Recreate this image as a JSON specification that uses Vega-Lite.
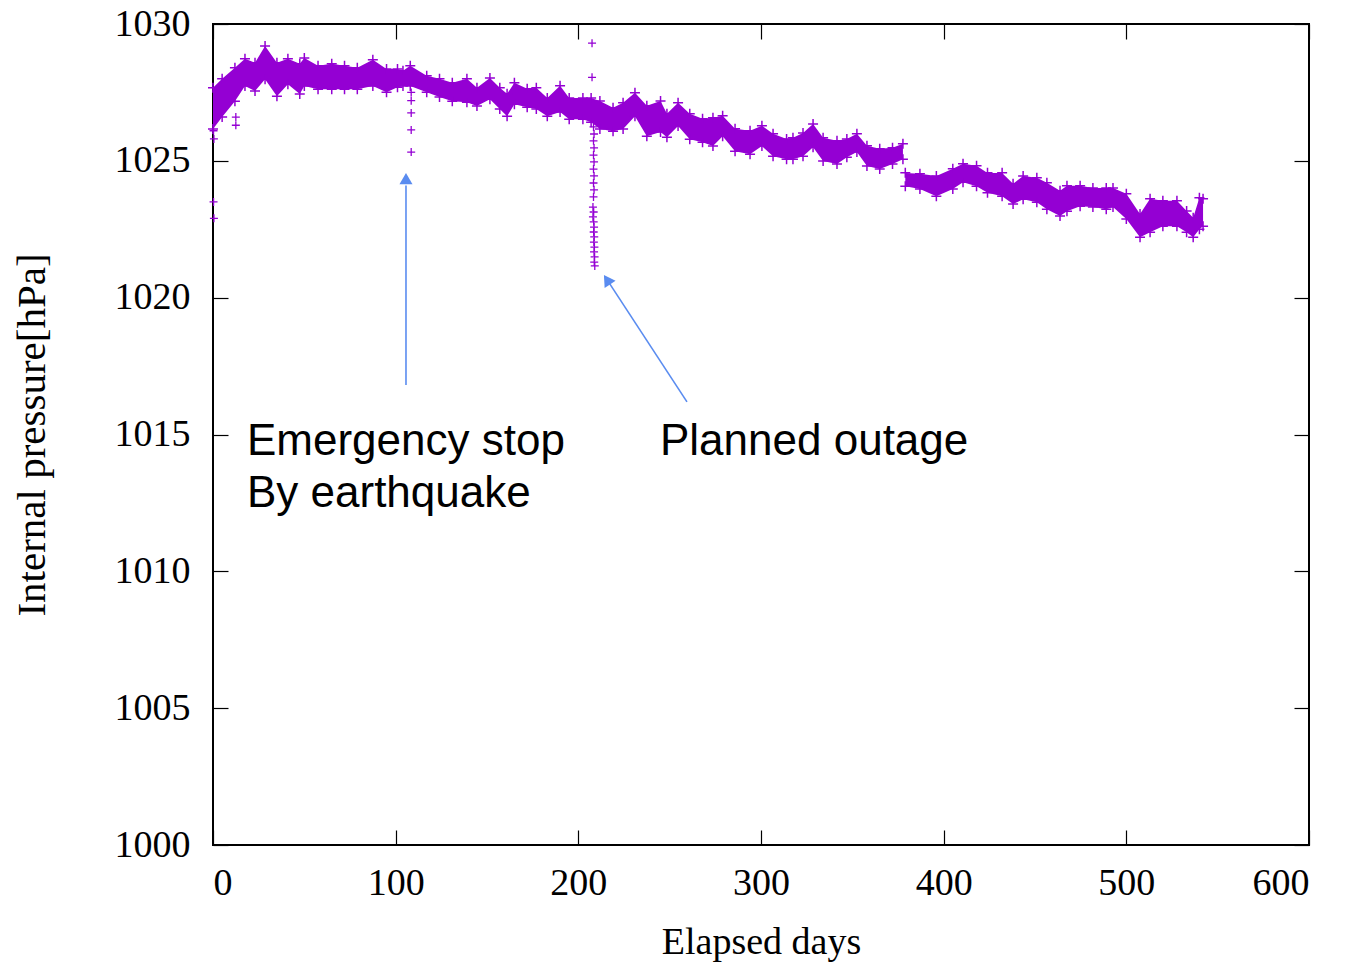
{
  "$schema": "https://vega.github.io/schema/vega-lite/v6.json",
  "width": 1096,
  "height": 821,
  "autosize": {"type": "none"},
  "padding": {"left": 213, "top": 24, "right": 39, "bottom": 119},
  "background": "white",
  "config": {
    "view": {"stroke": "black", "strokeWidth": 2},
    "axis": {
      "labelFont": "Liberation Serif",
      "labelFontSize": 38,
      "labelColor": "black",
      "titleFont": "Liberation Serif",
      "titleFontSize": 38,
      "titleFontWeight": "normal",
      "titleColor": "black",
      "tickColor": "black",
      "tickWidth": 1.2,
      "tickSize": -15,
      "domain": false,
      "grid": false
    }
  },
  "datasets": {
    "band": [
      {"d": 0, "hi": 1027.67, "lo": 1026.16, "s": "A"},
      {"d": 5, "hi": 1028.0, "lo": 1026.6, "s": "A"},
      {"d": 12, "hi": 1028.4, "lo": 1027.18, "s": "A"},
      {"d": 17.5, "hi": 1028.73, "lo": 1027.73, "s": "A"},
      {"d": 23, "hi": 1028.58, "lo": 1027.55, "s": "A"},
      {"d": 28.5, "hi": 1029.2, "lo": 1027.98, "s": "A"},
      {"d": 35, "hi": 1028.58, "lo": 1027.36, "s": "A"},
      {"d": 41, "hi": 1028.73, "lo": 1027.8, "s": "A"},
      {"d": 47.5, "hi": 1028.55, "lo": 1027.44, "s": "A"},
      {"d": 50, "hi": 1028.76, "lo": 1027.73, "s": "A"},
      {"d": 57.5, "hi": 1028.47, "lo": 1027.62, "s": "A"},
      {"d": 65, "hi": 1028.55, "lo": 1027.62, "s": "A"},
      {"d": 72, "hi": 1028.47, "lo": 1027.62, "s": "A"},
      {"d": 79, "hi": 1028.4, "lo": 1027.62, "s": "A"},
      {"d": 87.5, "hi": 1028.69, "lo": 1027.73, "s": "A"},
      {"d": 95, "hi": 1028.36, "lo": 1027.51, "s": "A"},
      {"d": 101, "hi": 1028.36, "lo": 1027.69, "s": "A"},
      {"d": 104, "hi": 1028.29, "lo": 1027.73, "s": "A"},
      {"d": 108, "hi": 1028.47, "lo": 1027.73, "s": "A"},
      {"d": 117, "hi": 1028.11, "lo": 1027.51, "s": "A"},
      {"d": 124, "hi": 1028.0, "lo": 1027.33, "s": "A"},
      {"d": 131, "hi": 1027.85, "lo": 1027.18, "s": "A"},
      {"d": 139, "hi": 1028.0, "lo": 1027.14, "s": "A"},
      {"d": 144.5, "hi": 1027.67, "lo": 1027.0, "s": "A"},
      {"d": 151.6, "hi": 1028.03, "lo": 1027.25, "s": "A"},
      {"d": 157, "hi": 1027.67, "lo": 1026.89, "s": "A"},
      {"d": 161, "hi": 1027.45, "lo": 1026.63, "s": "A"},
      {"d": 165, "hi": 1027.85, "lo": 1027.07, "s": "A"},
      {"d": 172, "hi": 1027.63, "lo": 1026.96, "s": "A"},
      {"d": 177, "hi": 1027.67, "lo": 1026.89, "s": "A"},
      {"d": 183, "hi": 1027.3, "lo": 1026.63, "s": "A"},
      {"d": 190, "hi": 1027.74, "lo": 1026.78, "s": "A"},
      {"d": 195, "hi": 1027.3, "lo": 1026.52, "s": "A"},
      {"d": 202.5, "hi": 1027.3, "lo": 1026.52, "s": "A"},
      {"d": 207, "hi": 1027.3, "lo": 1026.41, "s": "A"},
      {"d": 211.8, "hi": 1027.19, "lo": 1026.16, "s": "A"},
      {"d": 219, "hi": 1026.94, "lo": 1026.08, "s": "A"},
      {"d": 224.5, "hi": 1027.12, "lo": 1026.16, "s": "A"},
      {"d": 231, "hi": 1027.49, "lo": 1026.63, "s": "A"},
      {"d": 237.5, "hi": 1027.01, "lo": 1025.9, "s": "A"},
      {"d": 245, "hi": 1027.19, "lo": 1026.05, "s": "A"},
      {"d": 248.5, "hi": 1026.72, "lo": 1025.86, "s": "A"},
      {"d": 254.6, "hi": 1027.12, "lo": 1026.27, "s": "A"},
      {"d": 261, "hi": 1026.72, "lo": 1025.79, "s": "A"},
      {"d": 268, "hi": 1026.54, "lo": 1025.68, "s": "A"},
      {"d": 273.7, "hi": 1026.57, "lo": 1025.54, "s": "A"},
      {"d": 279, "hi": 1026.65, "lo": 1025.9, "s": "A"},
      {"d": 285.8, "hi": 1026.17, "lo": 1025.35, "s": "A"},
      {"d": 294, "hi": 1026.1, "lo": 1025.24, "s": "A"},
      {"d": 300.5, "hi": 1026.28, "lo": 1025.54, "s": "A"},
      {"d": 306.6, "hi": 1025.99, "lo": 1025.17, "s": "A"},
      {"d": 314, "hi": 1025.8, "lo": 1025.06, "s": "A"},
      {"d": 317.5, "hi": 1025.84, "lo": 1025.06, "s": "A"},
      {"d": 323, "hi": 1026.02, "lo": 1025.17, "s": "A"},
      {"d": 328.5, "hi": 1026.35, "lo": 1025.5, "s": "A"},
      {"d": 334, "hi": 1025.84, "lo": 1024.99, "s": "A"},
      {"d": 341.6, "hi": 1025.73, "lo": 1024.88, "s": "A"},
      {"d": 347, "hi": 1025.8, "lo": 1025.13, "s": "A"},
      {"d": 352.5, "hi": 1025.99, "lo": 1025.32, "s": "A"},
      {"d": 358, "hi": 1025.55, "lo": 1024.81, "s": "A"},
      {"d": 365, "hi": 1025.44, "lo": 1024.7, "s": "A"},
      {"d": 372, "hi": 1025.48, "lo": 1024.88, "s": "A"},
      {"d": 377.7, "hi": 1025.62, "lo": 1025.06, "s": "A"},
      {"d": 379, "hi": 1024.56, "lo": 1024.07, "s": "B"},
      {"d": 387, "hi": 1024.53, "lo": 1023.97, "s": "B"},
      {"d": 396, "hi": 1024.45, "lo": 1023.71, "s": "B"},
      {"d": 405, "hi": 1024.71, "lo": 1023.97, "s": "B"},
      {"d": 410.6, "hi": 1024.89, "lo": 1024.22, "s": "B"},
      {"d": 418, "hi": 1024.82, "lo": 1024.07, "s": "B"},
      {"d": 424, "hi": 1024.56, "lo": 1023.83, "s": "B"},
      {"d": 432, "hi": 1024.56, "lo": 1023.71, "s": "B"},
      {"d": 438, "hi": 1024.16, "lo": 1023.42, "s": "B"},
      {"d": 443.5, "hi": 1024.45, "lo": 1023.6, "s": "B"},
      {"d": 451, "hi": 1024.38, "lo": 1023.49, "s": "B"},
      {"d": 456.5, "hi": 1024.2, "lo": 1023.23, "s": "B"},
      {"d": 463.7, "hi": 1023.91, "lo": 1022.98, "s": "B"},
      {"d": 467.5, "hi": 1024.09, "lo": 1023.16, "s": "B"},
      {"d": 474.7, "hi": 1024.09, "lo": 1023.34, "s": "B"},
      {"d": 481.7, "hi": 1024.01, "lo": 1023.31, "s": "B"},
      {"d": 489, "hi": 1024.01, "lo": 1023.23, "s": "B"},
      {"d": 492.7, "hi": 1024.01, "lo": 1023.31, "s": "B"},
      {"d": 500, "hi": 1023.8, "lo": 1022.87, "s": "B"},
      {"d": 507.5, "hi": 1023.06, "lo": 1022.21, "s": "B"},
      {"d": 513, "hi": 1023.61, "lo": 1022.39, "s": "B"},
      {"d": 520, "hi": 1023.54, "lo": 1022.61, "s": "B"},
      {"d": 527.7, "hi": 1023.54, "lo": 1022.61, "s": "B"},
      {"d": 533, "hi": 1023.17, "lo": 1022.39, "s": "B"},
      {"d": 536.6, "hi": 1022.92, "lo": 1022.21, "s": "B"},
      {"d": 540, "hi": 1023.65, "lo": 1022.5, "s": "B"},
      {"d": 542, "hi": 1023.61, "lo": 1022.61, "s": "B"}
    ],
    "pts": [
      {"d": 0.3, "p": 1026.1},
      {"d": 0.5, "p": 1025.8},
      {"d": 0.3, "p": 1023.5},
      {"d": 0.5, "p": 1022.9},
      {"d": 12.5, "p": 1026.6},
      {"d": 12.5, "p": 1026.3},
      {"d": 108.5, "p": 1027.5},
      {"d": 108.5, "p": 1027.2},
      {"d": 108.5, "p": 1026.75},
      {"d": 108.5, "p": 1026.13},
      {"d": 108.5, "p": 1025.32},
      {"d": 207.5, "p": 1029.3},
      {"d": 207.5, "p": 1028.05},
      {"d": 208.3, "p": 1026.24},
      {"d": 208.6, "p": 1025.98},
      {"d": 208.3, "p": 1025.73},
      {"d": 208.6, "p": 1025.47},
      {"d": 208.3, "p": 1025.21},
      {"d": 208.6, "p": 1024.96},
      {"d": 208.3, "p": 1024.7},
      {"d": 208.6, "p": 1024.45},
      {"d": 208.3, "p": 1024.19},
      {"d": 208.6, "p": 1023.94},
      {"d": 208.3, "p": 1023.68},
      {"d": 208.0, "p": 1023.31},
      {"d": 208.4, "p": 1023.13},
      {"d": 208.0, "p": 1022.95},
      {"d": 208.4, "p": 1022.77},
      {"d": 208.6, "p": 1022.58},
      {"d": 208.4, "p": 1022.4},
      {"d": 208.7, "p": 1022.22},
      {"d": 208.5, "p": 1022.03},
      {"d": 208.8, "p": 1021.85},
      {"d": 208.6, "p": 1021.67},
      {"d": 208.9, "p": 1021.49},
      {"d": 208.7, "p": 1021.3},
      {"d": 209.0, "p": 1021.16}
    ],
    "arrows": [
      {"x1": 105.65, "y1": 1016.81, "x2": 105.65, "y2": 1024.1},
      {"x1": 259.48, "y1": 1016.19, "x2": 215.7, "y2": 1020.66}
    ],
    "heads": [
      {"d": 105.65, "p": 1024.35, "ang": 0},
      {"d": 215.7, "p": 1020.66, "ang": -33.2}
    ],
    "notes": [
      {"d": 18.6, "p": 1014.25, "t": "Emergency stop"},
      {"d": 18.6, "p": 1012.35, "t": "By earthquake"},
      {"d": 244.7, "p": 1014.25, "t": "Planned outage"}
    ]
  },
  "resolve": {"axis": {"x": "independent", "y": "independent"}},
  "layer": [
    {
      "data": {"name": "band"},
      "mark": {"type": "area", "color": "#9400d3", "interpolate": "linear", "opacity": 1},
      "encoding": {
        "x": {"field": "d", "type": "quantitative",
              "scale": {"domain": [0, 600], "nice": false, "zero": false},
              "axis": {"orient": "bottom", "values": [0, 100, 200, 300, 400, 500, 600], "format": "d", "title": "Elapsed days", "labelPadding": 34, "labelDx": 5, "titlePadding": 21}},
        "y": {"field": "lo", "type": "quantitative",
              "scale": {"domain": [1000, 1030], "nice": false, "zero": false},
              "axis": {"orient": "left", "values": [1000, 1005, 1010, 1015, 1020, 1025, 1030], "format": "d", "title": "Internal pressure[hPa]", "titleFontSize": 41, "labelPadding": 38, "titlePadding": 61}},
        "y2": {"field": "hi"},
        "detail": {"field": "s"}
      }
    },
    {
      "data": {"name": "band"},
      "mark": {"type": "point", "shape": "M-1,0H1M0,-1V1", "filled": false, "stroke": "#9400d3", "strokeWidth": 1.5, "size": 100, "opacity": 1},
      "encoding": {
        "x": {"field": "d", "type": "quantitative",
              "axis": {"orient": "top", "values": [0, 100, 200, 300, 400, 500, 600], "labels": false, "title": null}},
        "y": {"field": "hi", "type": "quantitative",
              "axis": {"orient": "right", "values": [1000, 1005, 1010, 1015, 1020, 1025, 1030], "labels": false, "title": null}}
      }
    },
    {
      "data": {"name": "band"},
      "mark": {"type": "point", "shape": "M-1,0H1M0,-1V1", "filled": false, "stroke": "#9400d3", "strokeWidth": 1.5, "size": 100, "opacity": 1},
      "encoding": {
        "x": {"field": "d", "type": "quantitative", "axis": null},
        "y": {"field": "lo", "type": "quantitative", "axis": null}
      }
    },
    {
      "data": {"name": "pts"},
      "mark": {"type": "point", "shape": "M-1,0H1M0,-1V1", "filled": false, "stroke": "#9400d3", "strokeWidth": 1.3, "size": 64, "opacity": 1},
      "encoding": {
        "x": {"field": "d", "type": "quantitative", "axis": null},
        "y": {"field": "p", "type": "quantitative", "axis": null}
      }
    },
    {
      "data": {"name": "arrows"},
      "mark": {"type": "rule", "color": "#5a8cf0", "strokeWidth": 1.6},
      "encoding": {
        "x": {"field": "x1", "type": "quantitative", "axis": null},
        "y": {"field": "y1", "type": "quantitative", "axis": null},
        "x2": {"field": "x2"},
        "y2": {"field": "y2"}
      }
    },
    {
      "data": {"name": "heads"},
      "mark": {"type": "point", "shape": "triangle-up", "filled": true, "color": "#5a8cf0", "size": 170, "opacity": 1},
      "encoding": {
        "x": {"field": "d", "type": "quantitative", "axis": null},
        "y": {"field": "p", "type": "quantitative", "axis": null},
        "angle": {"field": "ang", "type": "quantitative", "scale": null}
      }
    },
    {
      "data": {"name": "notes"},
      "mark": {"type": "text", "font": "Liberation Sans", "fontSize": 44, "align": "left", "baseline": "alphabetic", "color": "black"},
      "encoding": {
        "x": {"field": "d", "type": "quantitative", "axis": null},
        "y": {"field": "p", "type": "quantitative", "axis": null},
        "text": {"field": "t"}
      }
    }
  ]
}
